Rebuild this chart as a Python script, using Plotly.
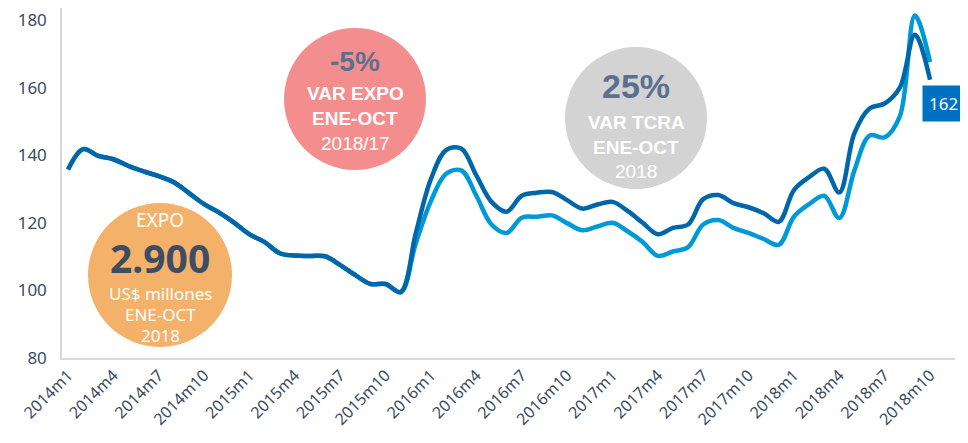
import plotly.graph_objects as go

# ---- data ----
months = [f"{y}m{m}" for y in range(2014, 2019) for m in range(1, 13)][:58]

tcra_dark = [135.8, 141.8, 139.8, 138.8, 136.8, 135.2, 133.8, 132.0, 128.8, 125.5,
             123.0, 120.0, 116.6, 114.3, 111.0, 110.3, 110.2, 110.1, 107.5, 104.5,
             101.9, 101.9, 99.5, 117.0, 133.0, 141.5, 142.0, 134.0, 126.2, 123.3,
             128.0, 128.9, 129.1, 126.7, 124.2, 125.4, 126.2, 123.5, 120.0, 116.6,
             118.5, 119.5, 127.0, 128.2, 125.8, 124.6, 122.8, 120.3, 129.7, 133.5,
             136.0, 129.0, 146.5, 153.8, 155.3, 160.0, 175.6, 162.3]

tcra_light = [135.8, 141.8, 139.8, 138.8, 136.8, 135.2, 133.8, 132.0, 128.8, 125.5,
              123.0, 120.0, 116.6, 114.3, 111.0, 110.3, 110.2, 110.1, 107.5, 104.5,
              101.9, 101.9, 99.5, 114.0, 126.5, 134.5, 135.5, 128.0, 119.5, 117.0,
              121.5, 121.8, 122.2, 119.9, 117.8, 118.9, 120.0, 117.5, 114.3, 110.2,
              111.5, 112.8, 119.5, 120.8, 118.5, 117.0, 115.2, 113.5, 121.8, 125.5,
              128.0, 121.4, 135.5, 145.8, 145.3, 151.5, 181.3, 167.6]

tick_labels = months[::3]
y_ticks = [80, 100, 120, 140, 160, 180]
end_label = "162"

# ---- layout geometry ----
# The page body adds an 8px offset; positions below are in page pixels.
OFF = 8
W, H = 968 - OFF, 443 - OFF
PLOT_L, PLOT_R, PLOT_T, PLOT_B = 62, 955, 8, 358   # page pixels
L = PLOT_L - OFF
R = W - (PLOT_R - OFF)
T = PLOT_T - OFF
B = H - (PLOT_B - OFF)
PW, PH = PLOT_R - PLOT_L, PLOT_B - PLOT_T


def px(x):
    return (x - PLOT_L) / PW


def py(y):
    return (PLOT_B - y) / PH


DARK = "#0066AA"
LIGHT = "#0099D8"
TXT = "#3C4A5E"
FONT = "Noto Sans, Open Sans, sans-serif"

fig = go.Figure()
fig.add_trace(go.Scatter(x=months, y=tcra_light, mode="lines",
                         line=dict(color=LIGHT, width=4.5, shape="spline", smoothing=1.0),
                         hoverinfo="x+y", showlegend=False))
fig.add_trace(go.Scatter(x=months, y=tcra_dark, mode="lines",
                         line=dict(color=DARK, width=4.5, shape="spline", smoothing=1.0),
                         hoverinfo="x+y", showlegend=False))

shapes = []


def circle(cx, cy, r, color):
    shapes.append(dict(type="circle", xref="paper", yref="paper",
                       x0=px(cx - r), x1=px(cx + r), y0=py(cy + r), y1=py(cy - r),
                       fillcolor=color, line=dict(width=0), layer="below"))


circle(160, 275, 72, "#F3B169")
circle(355, 99, 71, "#F48E8E")
circle(636, 118, 71, "#D3D3D3")

ann = []


def text(cx, cy, s, size, color, family=FONT, bold=False):
    if bold:
        s = f"<b>{s}</b>"
    ann.append(dict(x=px(cx), y=py(cy), xref="paper", yref="paper", text=s,
                    showarrow=False, xanchor="center", yanchor="middle",
                    borderpad=0,
                    font=dict(size=size, color=color, family=family)))


NARROW = "Liberation Sans Narrow, Arial Narrow, Liberation Sans, sans-serif"
# orange circle
text(160, 220, "EXPO", 19, "white")
text(160, 257, "2.900", 39, "#3E4D63", bold=True)
text(160, 293, "US$ millones", 17, "white")
text(160, 314, "ENE-OCT", 17, "white")
text(160, 335, "2018", 17, "white")
# pink circle
text(355, 61, "-5%", 28, "#5B7090", family="Liberation Sans, sans-serif", bold=True)
text(355, 94, "VAR EXPO", 19, "white", family=NARROW, bold=True)
text(355, 118, "ENE-OCT", 19, "white", family=NARROW, bold=True)
text(355, 143, "2018/17", 19, "white", family=NARROW)
# gray circle
text(636, 86, "25%", 34, "#5B7090", family="Liberation Sans, sans-serif", bold=True)
text(636, 122, "VAR TCRA", 19, "white", family=NARROW, bold=True)
text(636, 147, "ENE-OCT", 19, "white", family=NARROW, bold=True)
text(636, 172, "2018", 19, "white", family=NARROW)

# end value label
ann.append(dict(x=months[-1], y=tcra_dark[-1], xref="x", yref="y", text=end_label,
                showarrow=True, arrowcolor="rgba(0,0,0,0)", ax=13, ay=24,
                xanchor="center", yanchor="middle",
                bgcolor="#0070C0", borderpad=6,
                font=dict(size=17, color="white", family=FONT)))

fig.update_layout(
    width=W, height=H,
    margin=dict(l=L, r=R, t=T, b=B, autoexpand=False),
    paper_bgcolor="white", plot_bgcolor="white",
    shapes=shapes, annotations=ann,
    showlegend=False,
    xaxis=dict(type="category", range=[-0.4, 58.65],
               tickmode="array", tickvals=tick_labels, ticktext=tick_labels,
               tickangle=-45, showgrid=False, zeroline=False, automargin=False,
               showline=True, linecolor="#D9D9D9", linewidth=1.5, ticks="",
               ticklabeloverflow="allow",
               tickfont=dict(size=16, color=TXT, family=FONT)),
    yaxis=dict(range=[80, 80 + (PLOT_B - PLOT_T) / 3.38], tickvals=y_ticks,
               showgrid=False, zeroline=False, automargin=False,
               showline=True, linecolor="#D9D9D9", linewidth=1.5, ticks="",
               ticklabelstandoff=10, ticklabeloverflow="allow",
               tickfont=dict(size=17, color=TXT, family=FONT)),
)

fig.write_html("out.html")
